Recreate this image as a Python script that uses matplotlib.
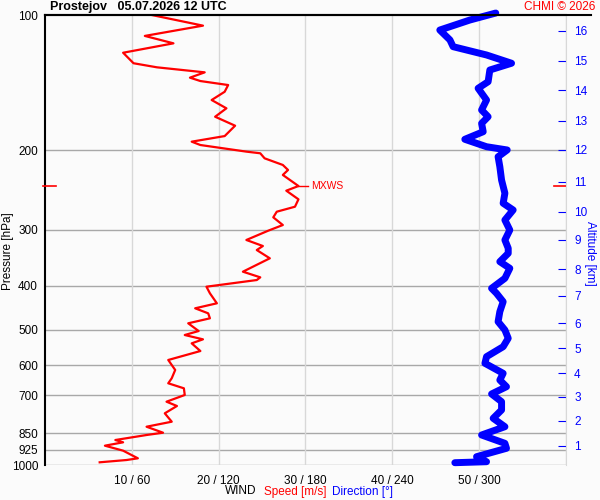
import numpy as np
import matplotlib
matplotlib.use("Agg")
import matplotlib.pyplot as plt
import matplotlib.transforms as mtransforms
from matplotlib.lines import Line2D

plt.rcParams['font.family'] = ['Liberation Sans', 'DejaVu Sans']

# wind speed profile (hPa, m/s)
spd_p = [100, 105.6, 111.3, 115.6, 121.3, 128.0, 130.7, 134.1, 137.8, 140.2,
         143.1, 148.1, 154.5, 161.2, 168.3, 176.2, 185.8, 191.2, 194.5, 201.2,
         202.9, 208.2, 215.4, 221.0, 226.7, 239.9, 245.7, 256.8, 266.7, 273.6,
         281.6, 292.9, 301.6, 316.2, 326.1, 332.9, 347.3, 371.9, 382.8, 388.1,
         401.6, 415.4, 437.2, 448.5, 460.2, 472.1, 484.3, 503.8, 514.2, 525.7,
         536.6, 558.1, 584.3, 614.9, 641.6, 658.3, 675.4, 698.9, 723.3, 739.4,
         767.6, 801.3, 822.1, 847.7, 857.7, 880.0, 890.4, 905.9, 929.3, 966.3,
         974.8, 986.3]
spd = [12.3, 18.2, 11.5, 14.8, 9.0, 10.2, 12.9, 18.4, 16.7, 17.9,
       21.1, 20.7, 19.2, 20.9, 19.6, 21.9, 20.7, 16.9, 17.9, 23.2,
       24.8, 25.3, 27.4, 28.0, 27.4, 29.2, 27.8, 29.2, 28.8, 26.7,
       26.3, 27.4, 25.7, 23.2, 25.1, 24.4, 25.9, 22.8, 24.8, 24.4,
       18.6, 19.0, 19.8, 17.3, 18.8, 19.0, 16.5, 17.7, 16.1, 18.2,
       16.9, 17.9, 14.2, 15.0, 14.6, 14.2, 16.0, 16.1, 14.0, 15.2,
       13.8, 14.6, 11.7, 13.6, 11.7, 8.1, 9.0, 6.9, 9.0, 10.7,
       9.4, 6.3]

# wind direction profile (hPa, deg)
dir_p = [99.0, 102.6, 108.0, 113.6, 117.6, 122.7, 128.0, 132.5, 140.7, 145.5,
         154.5, 162.6, 168.3, 174.1, 181.7, 188.9, 196.2, 199.5, 206.5, 217.3,
         232.7, 248.9, 262.0, 271.2, 285.5, 300.5, 316.2, 329.9, 338.5, 353.3,
         365.5, 384.7, 404.9, 415.4, 433.6, 456.3, 480.3, 501.2, 522.9, 545.9,
         574.5, 594.3, 625.6, 647.5, 669.9, 695.3, 723.3, 754.6, 787.5, 822.1,
         857.7, 895.0, 918.1, 958.4, 983.3, 988.3]
wdir = [311.6, 293.7, 272.9, 279.9, 282.1, 305.2, 322.5, 307.5, 306.3, 299.4,
        305.2, 301.8, 306.3, 301.8, 302.9, 290.2, 305.2, 319.5, 313.2, 314.4,
        315.6, 317.9, 316.7, 323.6, 317.9, 321.3, 317.9, 320.2, 320.2, 314.4,
        321.3, 317.9, 308.7, 312.1, 316.7, 314.4, 313.2, 317.9, 320.2, 316.7,
        305.2, 304.1, 316.7, 314.4, 319.0, 308.7, 315.6, 315.6, 309.8, 317.9,
        301.8, 317.9, 319.0, 298.3, 305.2, 283.3]

p_ticks = [100, 200, 300, 400, 500, 600, 700, 850, 925, 1000]
spd_ticks = [10, 20, 30, 40, 50]
spd_grid = [10, 20, 30, 40, 50, 60]

# altitude km -> pressure of this sounding
alt_km = [1, 2, 3, 4, 5, 6, 7, 8, 9, 10, 11, 12, 13, 14, 15, 16]
alt_p = [907, 798, 706, 625, 550, 484, 421, 367, 316, 274, 235, 199.5, 172, 146.8, 126.5, 108.5]

mxws_p = 240.0
mxws_v = 29.2

bg = '#fbfbfb'
fig = plt.figure(figsize=(6, 5), dpi=100, facecolor=bg)
ax = fig.add_axes([0.075, 0.07, 0.868, 0.90])
ax.set_facecolor(bg)

ax.set_yscale('log')
ax.set_ylim(1000, 100)
ax.set_xlim(0, 60)
ax.minorticks_off()

for p in p_ticks[1:]:
    ax.axhline(p, color='#a8a8a8', lw=1, zorder=1)
for s in spd_grid:
    ax.axvline(s, color='#d8d8d8', lw=1, zorder=1)

ax.set_yticks(p_ticks)
ax.set_yticklabels([str(p) for p in p_ticks], fontsize=8.5)
ax.set_xticks(spd_ticks)
ax.set_xticklabels(['%d / %d' % (s, s * 6) for s in spd_ticks], fontsize=8.5)
ax.tick_params(axis='both', length=0, pad=5)
ax.tick_params(axis='x', pad=7)

for side in ['right', 'bottom']:
    ax.spines[side].set_visible(False)
ax.spines['left'].set_linewidth(1.5)
ax.spines['top'].set_linewidth(1.5)

ax.plot(spd, spd_p, color='red', lw=1.6, zorder=3)

# direction on its own x scale
axd = ax.twiny()
axd.set_xlim(0, 360)
axd.set_xticks([])
for side in axd.spines:
    axd.spines[side].set_visible(False)
axd.plot(wdir, dir_p, color='blue', lw=5, solid_capstyle='round',
         solid_joinstyle='round', zorder=3, clip_on=False)

# altitude axis
axa = ax.twinx()
axa.set_yscale('log')
axa.set_ylim(1000, 100)
axa.minorticks_off()
axa.set_yticks(alt_p)
axa.set_yticklabels([str(k) for k in alt_km], fontsize=8.5, color='blue')
axa.tick_params(axis='y', direction='in', length=6, color='blue', pad=6)
for side in ['left', 'top', 'bottom']:
    axa.spines[side].set_visible(False)
axa.spines['right'].set_color('#d8d8d8')
axa.text(1.046, 0.47, 'Altitude [km]', transform=axa.transAxes, rotation=-90,
         color='blue', fontsize=8.5, ha='center', va='center')

# max wind marks
trans = mtransforms.blended_transform_factory(ax.transAxes, ax.transData)
ax.plot([-0.004, 0.021], [mxws_p, mxws_p], color='red', lw=1.2, transform=trans, clip_on=False, zorder=4)
ax.plot([0.977, 1.0], [mxws_p, mxws_p], color='red', lw=1.2, transform=trans, clip_on=False, zorder=4)
ax.plot([mxws_v, mxws_v + 1.1], [mxws_p, mxws_p], color='red', lw=1, zorder=4)
ax.text(mxws_v + 1.5, mxws_p, 'MXWS', color='red', fontsize=7.5, va='center', ha='left')

fig.add_artist(Line2D([0.075, 0.985], [0.97, 0.97], color='black', lw=1.5))

fig.text(0.083, 0.986, 'Prostejov   05.07.2026 12 UTC', fontsize=9, fontweight='bold',
         ha='left', va='center')
fig.text(0.993, 0.986, 'CHMI \u00a9 2026', fontsize=8.5, color='red', ha='right', va='center')
fig.text(0.013, 0.497, 'Pressure [hPa]', fontsize=8.5, rotation=90, ha='center', va='center')

fig.text(0.375, 0.017, 'WIND', fontsize=8.5, ha='left', va='center')
fig.text(0.44, 0.017, 'Speed [m/s]', fontsize=8.5, color='red', ha='left', va='center')
fig.text(0.553, 0.017, 'Direction [\u00b0]', fontsize=8.5, color='blue', ha='left', va='center')

fig.savefig('out.png', dpi=100, facecolor=bg)
